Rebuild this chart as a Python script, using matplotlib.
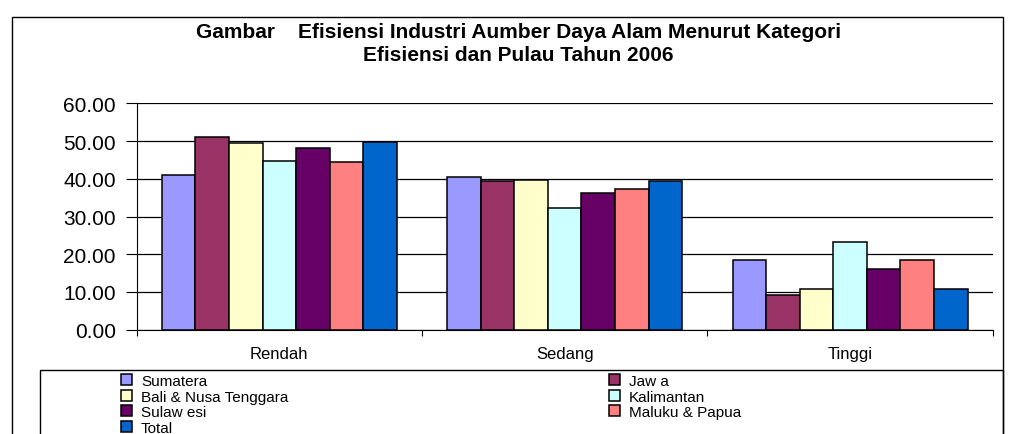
import numpy as np
import matplotlib
matplotlib.use("Agg")
import matplotlib.pyplot as plt
from matplotlib.patches import Rectangle

plt.rcParams['font.family'] = ['Liberation Sans', 'DejaVu Sans']

categories = ["Rendah", "Sedang", "Tinggi"]
islands = ["Sumatera", "Jaw a", "Bali & Nusa Tenggara", "Kalimantan",
           "Sulaw esi", "Maluku & Papua", "Total"]
colors = ["#9999FF", "#993366", "#FFFFCC", "#CCFFFF", "#660066", "#FF8080", "#0066CC"]

sumatera = [41.1, 40.4, 18.5]
jawa = [51.0, 39.5, 9.2]
bali = [49.4, 39.8, 10.9]
kalimantan = [44.7, 32.2, 23.2]
sulawesi = [48.1, 36.2, 16.0]
maluku = [44.5, 37.2, 18.5]
total = [49.8, 39.5, 10.9]
series = [sumatera, jawa, bali, kalimantan, sulawesi, maluku, total]

fig = plt.figure(figsize=(10.14, 4.35), dpi=100)
ax = fig.add_axes([0.1348, 0.240, 0.979 - 0.1348, 0.520])

x = np.arange(len(categories))
w = 1 / (len(series) + 1.5)
handles = []
for i, (vals, col, name) in enumerate(zip(series, colors, islands)):
    off = (i - (len(series) - 1) / 2) * w
    b = ax.bar(x + off, vals, w, color=col, edgecolor="black", linewidth=1.1,
               label=name, zorder=3)
    handles.append(b)

ax.set_xlim(-0.5, 2.5)
ax.set_ylim(0, 60)
ax.set_yticks(np.arange(0, 61, 10))
ax.set_yticklabels([f"{v:.2f}" for v in np.arange(0, 61, 10)], fontsize=15)
ax.yaxis.grid(True, color="black", linewidth=0.9, zorder=0)
ax.set_axisbelow(True)
ax.set_xticks(x)
ax.set_xticklabels(categories, fontsize=12)
ax.tick_params(axis="x", length=0, pad=12)
ax.set_xticks([-0.5, 0.5, 1.5, 2.5], minor=True)
ax.tick_params(axis="x", which="minor", length=4, width=0.8, direction="out")
ax.tick_params(axis="y", length=8, width=0.8, pad=7)
for s in ["top", "right"]:
    ax.spines[s].set_visible(False)
ax.spines["left"].set_linewidth(0.8)
ax.spines["bottom"].set_linewidth(0.8)

fig.text(0.511, 0.899,
         "Gambar    Efisiensi Industri Aumber Daya Alam Menurut Kategori\nEfisiensi dan Pulau Tahun 2006",
         ha="center", va="center", fontsize=15, fontweight="bold", linespacing=1.22)

# outer chart frame and legend box
fig.add_artist(Rectangle((12 / 1014, -0.05), (1003 - 12) / 1014, 1.05 - 18 / 435,
                         transform=fig.transFigure, fill=False, edgecolor="black",
                         linewidth=1.0))
fig.add_artist(Rectangle((40 / 1014, -0.05), (1003 - 40) / 1014, 0.05 + 1 - 371 / 435,
                         transform=fig.transFigure, fill=False, edgecolor="black",
                         linewidth=1.0))

order = [0, 2, 4, 6, 1, 3, 5]
fig.legend([handles[i] for i in order], [islands[i] for i in order],
           loc="upper left", bbox_to_anchor=(121 / 1014, 1 - 375 / 435),
           ncol=2, frameon=False, fontsize=11, handlelength=0.7, handleheight=0.7,
           handletextpad=0.6, labelspacing=0.1, columnspacing=21,
           borderpad=0, borderaxespad=0)

fig.savefig("out.png", dpi=100)
